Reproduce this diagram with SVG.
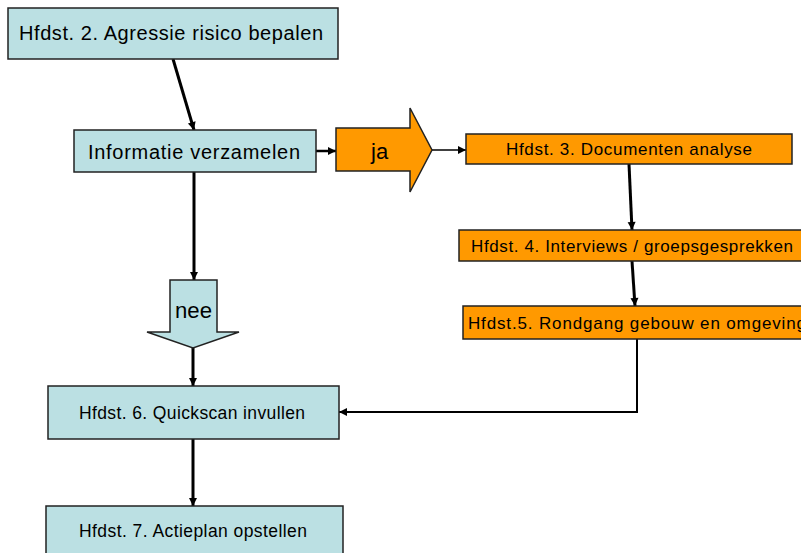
<svg xmlns="http://www.w3.org/2000/svg" width="801" height="553" viewBox="0 0 801 553">
<defs>
<marker id="ah" markerUnits="userSpaceOnUse" markerWidth="10" markerHeight="10" viewBox="0 0 10 10" refX="9" refY="5" orient="auto">
<path d="M1,1 L9,5 L1,9 Z" fill="#000"/>
</marker>
</defs>
<style>
.blue{fill:#BBE0E3;stroke:#222;stroke-width:1.5}
.orange{fill:#FF9900;stroke:#222;stroke-width:1.5}
.t{font-family:"Liberation Sans",Arial,sans-serif;fill:#000}
.tb{font-size:20px}
.ts{font-size:17.5px}
.to{font-size:17px}
.c{fill:none;stroke:#000;stroke-width:3;marker-end:url(#ah)}
</style>
<rect width="801" height="553" fill="#fff"/>
<g id="connectors">
<path class="c" d="M173,59 L194,130"/>
<path class="c" d="M316,151 L336,151" style="stroke-width:2.5"/>
<path class="c" d="M432,150 L466,150" style="stroke-width:1.5"/>
<path class="c" d="M629,164 L632,230"/>
<path class="c" d="M632,261 L635,306"/>
<path class="c" d="M637,339 L637,412 L339,412" style="stroke-width:2"/>
<path class="c" d="M194,172 L194,280"/>
<path class="c" d="M193,348 L193,386"/>
<path class="c" d="M193,439 L193,506"/>
</g>
<g id="n1">
<rect class="blue" x="8" y="8" width="330" height="51"/>
<text class="t tb" x="19" y="40" textLength="304" lengthAdjust="spacing">Hfdst. 2. Agressie risico bepalen</text>
</g>
<g id="n2">
<rect class="blue" x="74" y="130" width="242" height="42"/>
<text class="t tb" x="88" y="159" textLength="212" lengthAdjust="spacing">Informatie verzamelen</text>
</g>
<g id="ja">
<path class="orange" d="M336,128 L410,128 L410,108 L432,150 L410,192 L410,171 L336,171 Z"/>
<text class="t" x="371" y="159" font-size="22">ja</text>
</g>
<g id="n3">
<rect class="orange" x="466" y="134" width="326" height="30"/>
<text class="t to" x="506" y="155" textLength="246" lengthAdjust="spacing">Hfdst. 3. Documenten analyse</text>
</g>
<g id="n4">
<rect class="orange" x="459" y="230" width="350" height="31"/>
<text class="t to" x="471" y="252" textLength="322" lengthAdjust="spacing">Hfdst. 4. Interviews / groepsgesprekken</text>
</g>
<g id="n5">
<rect class="orange" x="463" y="306" width="350" height="33"/>
<text class="t to" x="468" y="329" textLength="338" lengthAdjust="spacing">Hfdst.5. Rondgang gebouw en omgeving</text>
</g>
<g id="nee">
<path class="blue" d="M170,280 L217,280 L217,332 L239,332 L193,348 L147,332 L170,332 Z"/>
<text class="t" x="175" y="318" font-size="22" textLength="37" lengthAdjust="spacingAndGlyphs">nee</text>
</g>
<g id="n6">
<rect class="blue" x="48" y="386" width="291" height="53"/>
<text class="t ts" x="79" y="419" textLength="226" lengthAdjust="spacing">Hfdst. 6. Quickscan invullen</text>
</g>
<g id="n7">
<rect class="blue" x="46" y="506" width="297" height="60"/>
<text class="t ts" x="79" y="537" textLength="228" lengthAdjust="spacing">Hfdst. 7. Actieplan opstellen</text>
</g>
</svg>
